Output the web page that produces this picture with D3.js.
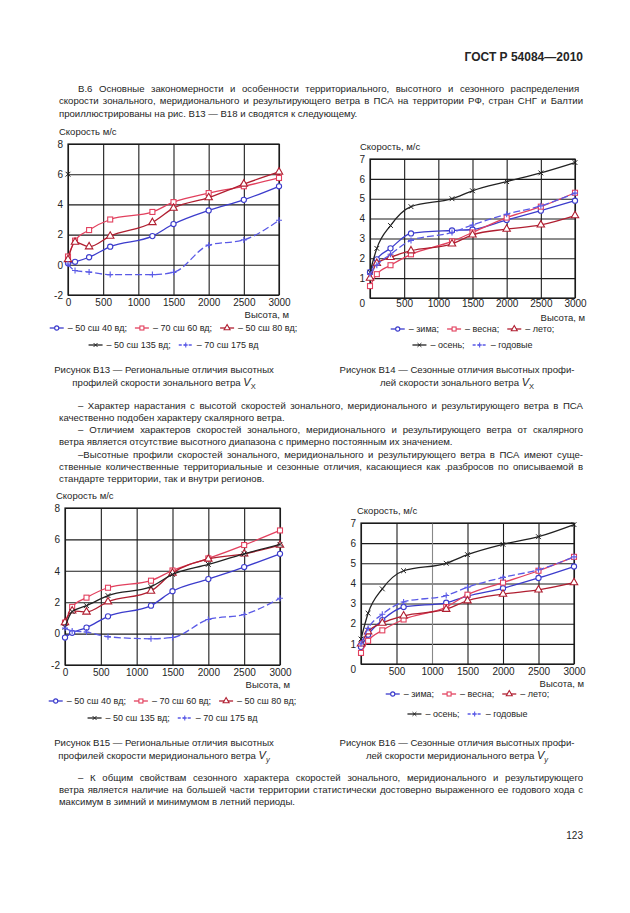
<!DOCTYPE html>
<html>
<head>
<meta charset="utf-8">
<title>ГОСТ Р 54084-2010, с. 123</title>
<script src="https://cdn.jsdelivr.net/npm/d3@7"></script>
<style>
  html, body { margin: 0; padding: 0; background: #fff; }
  svg text { font-family: "Liberation Sans", Arial, sans-serif; fill: #252525; }
</style>
</head>
<body>
<script>
// heights of the profile points, m
var heights = [0, 100, 300, 600, 1200, 1500, 2000, 2500, 3000];
var xTicks = [0, 500, 1000, 1500, 2000, 2500, 3000];

// Fig. B13 - zonal wind Vx, regions
var b13_40 = [0.1, 0.2, 0.5, 1.2, 1.9, 2.7, 3.6, 4.3, 5.2];
var b13_60 = [0.55, 1.6, 2.3, 3.0, 3.5, 4.15, 4.75, 5.2, 5.75];
var b13_80 = [0.35, 1.5, 1.2, 1.9, 2.8, 3.75, 4.45, 5.35, 6.15];
var b13_135 = [6, null, null, null, null, null, null, null, null];
var b13_175 = [0.05, -0.38, -0.48, -0.65, -0.65, -0.5, 1.3, 1.65, 2.95];

// Fig. B14 - zonal wind Vx, seasons
var b14_zima = [1.3, 1.95, 2.5, 3.25, 3.4, 3.45, 3.93, 4.4, 4.9];
var b14_vesna = [0.6, 1.2, 1.65, 2.2, 2.85, 3.3, 4.05, 4.6, 5.3];
var b14_leto = [1.0, 1.75, 2.05, 2.38, 2.73, 3.18, 3.47, 3.68, 4.15];
var b14_osen = [1.3, 2.5, 3.65, 4.6, 5.0, 5.4, 5.86, 6.3, 6.82];
var b14_god = [1.2, 1.65, 2.2, 2.9, 3.3, 3.68, 4.22, 4.64, 5.28];

// Fig. B15 - meridional wind Vy, regions
var b15_40 = [-0.25, 0.05, 0.38, 1.1, 1.78, 2.7, 3.47, 4.24, 5.08];
var b15_60 = [0.7, 1.7, 2.29, 2.92, 3.37, 4.02, 4.79, 5.64, 6.57];
var b15_80 = [0.7, 1.45, 1.38, 2.03, 2.71, 3.86, 4.75, 5.08, 5.64];
var b15_135 = [0.4, 1.4, 1.78, 2.42, 2.99, 3.77, 4.41, 5.08, 5.68];
var b15_175 = [0.35, 0.17, 0.1, -0.2, -0.33, -0.25, 0.9, 1.22, 2.25];

// Fig. B16 - meridional wind Vy, seasons
var b16_zima = [0.85, 1.45, 2.18, 2.83, 3.04, 3.37, 3.76, 4.27, 4.84];
var b16_vesna = [0.55, 1.15, 1.67, 2.21, 2.83, 3.44, 4.04, 4.63, 5.32];
var b16_leto = [1.0, 1.6, 2.03, 2.39, 2.72, 3.14, 3.47, 3.68, 4.04];
var b16_osen = [1.24, 2.52, 3.73, 4.63, 5.0, 5.43, 5.94, 6.32, 6.92];
var b16_god = [1.0, 1.77, 2.47, 3.08, 3.4, 3.81, 4.3, 4.68, 5.32];

var regionNames = ["– 50 сш 40 вд;", "– 70 сш 60 вд;", "– 50 сш 80 вд;", "– 50 сш 135 вд;", "– 70 сш 175 вд"];
var seasonNames = ["– зима;", "– весна;", "– лето;", "– осень;", "– годовые"];

var BLUE = "#3c3ccc", RED = "#e2405e", DARKRED = "#b01e30", BLACK = "#222", LBLUE = "#5a5ae6";
var styles = [
  { color: BLUE, marker: "circle" },
  { color: RED, marker: "square" },
  { color: DARKRED, marker: "triangle" },
  { color: BLACK, marker: "cross" },
  { color: LBLUE, marker: "plus", dash: "7,3" }
];

var svg = d3.select("body").append("svg")
  .attr("width", 630)
  .attr("height", 913);

function marker(g, st, cx, cy, s) {
  var c = st.color;
  if (st.marker == "circle") {
    g.append("circle").attr("cx", cx).attr("cy", cy).attr("r", 2.6 * s)
      .attr("fill", "#fff").attr("stroke", c).attr("stroke-width", 1.1);
  } else if (st.marker == "square") {
    g.append("rect").attr("x", cx - 2.5 * s).attr("y", cy - 2.5 * s)
      .attr("width", 5 * s).attr("height", 5 * s)
      .attr("fill", "#fff").attr("stroke", c).attr("stroke-width", 1.1);
  } else if (st.marker == "triangle") {
    g.append("path").attr("transform", "translate(" + cx + "," + cy + ")")
      .attr("d", d3.symbol().type(d3.symbolTriangle).size(24 * s * s)())
      .attr("fill", "#fff").attr("stroke", c).attr("stroke-width", 1.1);
  } else if (st.marker == "cross") {
    var r = 2.4 * s;
    g.append("path")
      .attr("d", "M" + (cx - r) + "," + (cy - r) + "L" + (cx + r) + "," + (cy + r) +
        "M" + (cx - r) + "," + (cy + r) + "L" + (cx + r) + "," + (cy - r))
      .attr("stroke", c).attr("stroke-width", 1);
  } else {
    var p = 3 * s;
    g.append("path")
      .attr("d", "M" + (cx - p) + "," + cy + "L" + (cx + p) + "," + cy +
        "M" + cx + "," + (cy - p) + "L" + cx + "," + (cy + p))
      .attr("stroke", c).attr("stroke-width", 1.1);
  }
}

function drawChart(c) {
  var x = d3.scaleLinear().domain([0, 3000]).range([c.left, c.right]);
  var y = d3.scaleLinear().domain(c.yDomain).range([c.bottom, c.top]);
  var g = svg.append("g");

  // grid
  g.append("g").attr("transform", "translate(" + c.left + ",0)")
    .call(d3.axisLeft(y).tickValues(c.yTicks).tickSize(-(c.right - c.left)).tickFormat(""))
    .call(function (a) {
      a.select(".domain").remove();
      a.selectAll("line").attr("stroke", "#1c1c1c").attr("stroke-width", 1.1);
    });
  g.append("g").attr("transform", "translate(0," + c.bottom + ")")
    .call(d3.axisBottom(x).tickValues(xTicks).tickSize(-(c.bottom - c.top)).tickFormat(""))
    .call(function (a) {
      a.select(".domain").remove();
      a.selectAll("line")
        .attr("stroke", function (d) { return d == c.greyX ? "#888" : "#1c1c1c"; })
        .attr("stroke-width", 1.1);
    });
  g.append("rect").attr("x", c.left).attr("y", c.top)
    .attr("width", c.right - c.left).attr("height", c.bottom - c.top)
    .attr("fill", "none").attr("stroke", "#1c1c1c").attr("stroke-width", 1.2);

  // tick labels
  g.append("g").attr("transform", "translate(" + c.left + ",0)")
    .call(d3.axisLeft(y).tickValues(c.yLabels).tickSize(0).tickPadding(5).tickFormat(function (d) { return String(d); }))
    .call(function (a) {
      a.select(".domain").remove();
      a.selectAll("text").attr("font-size", 10).attr("font-family", null).attr("fill", null);
    });
  g.append("g").attr("transform", "translate(0," + c.bottom + ")")
    .call(d3.axisBottom(x).tickValues(c.xLabels).tickSize(0).tickPadding(c.xPad).tickFormat(function (d) { return String(d); }))
    .call(function (a) {
      a.select(".domain").remove();
      a.selectAll("text").attr("font-size", 10).attr("font-family", null).attr("fill", null);
    });
  if (c.cornerZero) {
    g.append("text").attr("x", c.left - 5).attr("y", c.bottom + 9)
      .attr("text-anchor", "end").attr("font-size", 10).text("0");
  }

  g.append("text").attr("x", c.titleX).attr("y", c.top - 9)
    .attr("font-size", 9.5).text(c.title);
  g.append("text").attr("x", c.right + 10).attr("y", c.bottom + 23)
    .attr("text-anchor", "end").attr("font-size", 9.5).text("Высота, м");

  // series
  var line = d3.line()
    .defined(function (d) { return d[1] != null; })
    .x(function (d) { return x(d[0]); })
    .y(function (d) { return y(d[1]); })
    .curve(d3.curveMonotoneX);

  c.series.forEach(function (vals, i) {
    var st = styles[i];
    var pts = heights.map(function (h, k) { return [h, vals[k]]; });
    g.append("path").attr("d", line(pts))
      .attr("fill", "none").attr("stroke", st.color).attr("stroke-width", 1.3)
      .attr("stroke-dasharray", st.dash || null);
    pts.forEach(function (p) {
      if (p[1] != null) marker(g, st, x(p[0]), y(p[1]), 1);
    });
  });

  // legend
  var cx = (c.left + c.right) / 2;
  legendRow(cx, c.leg1, [0, 1, 2], c.names);
  legendRow(cx, c.leg2, [3, 4], c.names);

  // caption
  var cap = svg.append("g");
  cap.append("text").attr("x", c.capX).attr("y", c.cap + 3.5)
    .attr("text-anchor", "middle").attr("font-size", 9.6).text(c.cap1);
  var t2 = cap.append("text").attr("x", c.capX).attr("y", c.cap + 16.5)
    .attr("text-anchor", "middle").attr("font-size", 9.6);
  t2.append("tspan").text(c.cap2 + "  ");
  t2.append("tspan").attr("font-style", "italic").attr("font-size", 11).text("V");
  t2.append("tspan").attr("dy", 3).attr("font-size", 7.5)
    .attr("font-style", c.subItalic ? "italic" : null).text(c.sub);
}

function legendRow(cx, cy, idx, names) {
  var g = svg.append("g");
  var xpos = 0;
  idx.forEach(function (i) {
    var st = styles[i];
    var ig = g.append("g").attr("transform", "translate(" + xpos + ",0)");
    ig.append("line").attr("x1", 0).attr("x2", 14).attr("y1", 0).attr("y2", 0)
      .attr("stroke", st.color).attr("stroke-width", 1.3)
      .attr("stroke-dasharray", st.dash ? "3,2" : null);
    marker(ig, st, 7, 0, 0.8);
    var t = ig.append("text").attr("x", 18).attr("y", 3.4)
      .attr("font-size", 9).text(names[i]);
    xpos += 18 + t.node().getComputedTextLength() + 8;
  });
  xpos -= 8;
  g.attr("transform", "translate(" + (cx - xpos / 2) + "," + cy + ")");
}

// body text with justified lines
var L = 59, R = 583, IND = 19;
function para(lines, y0, lh) {
  lines.forEach(function (ln, i) {
    var x0 = L + (ln[1] ? IND : 0);
    var t = svg.append("text").attr("x", x0).attr("y", y0 + i * lh + 3.5)
      .attr("font-size", 9.6).text(ln[0]);
    if (ln[2]) {
      var w = t.node().getComputedTextLength();
      var n = ln[0].split(" ").length - 1;
      if (n > 0) t.style("word-spacing", ((R - x0 - w) / n) + "px");
    }
  });
}

svg.append("text").attr("x", R).attr("y", 61).attr("text-anchor", "end")
  .attr("font-size", 12).attr("font-weight", "bold").text("ГОСТ Р 54084—2010");

para([
  ["В.6  Основные закономерности и особенности территориального, высотного и сезонного распределения", true, true],
  ["скорости зонального, меридионального и результирующего ветра в ПСА на территории РФ, стран СНГ и Балтии", false, true],
  ["проиллюстрированы на рис. В13 — В18 и сводятся к следующему.", false, false]
], 88, 12.5);

drawChart({
  left: 68, right: 279, top: 144, bottom: 295, yDomain: [-2, 8],
  yTicks: [-2, 0, 2, 4, 6, 8], yLabels: [-2, 0, 2, 4, 6, 8], xLabels: xTicks, xPad: 4,
  title: "Скорость м/с", titleX: 59, series: [b13_40, b13_60, b13_80, b13_135, b13_175],
  names: regionNames, leg1: 328, leg2: 345,
  cap: 369, capX: 164, cap1: "Рисунок В13 — Региональные отличия высотных",
  cap2: "профилей скорости зонального ветра", sub: "X", subItalic: false
});

drawChart({
  left: 370, right: 575, top: 159, bottom: 298, yDomain: [0, 7],
  yTicks: [0, 1, 2, 3, 4, 5, 6, 7], yLabels: [1, 2, 3, 4, 5, 6, 7], xLabels: xTicks.slice(1), xPad: 2,
  cornerZero: true,
  title: "Скорость, м/с", titleX: 360, series: [b14_zima, b14_vesna, b14_leto, b14_osen, b14_god],
  names: seasonNames, leg1: 329, leg2: 345,
  cap: 369, capX: 457, cap1: "Рисунок В14 — Сезонные отличия высотных профи-",
  cap2: "лей скорости зонального ветра", sub: "X", subItalic: false
});

para([
  ["– Характер нарастания с высотой скоростей зонального, меридионального и результирующего ветра в ПСА", true, true],
  ["качественно подобен характеру скалярного ветра.", false, false],
  ["– Отличием характеров скоростей зонального, меридионального и результирующего ветра от скалярного", true, true],
  ["ветра является отсутствие высотного диапазона с примерно постоянным их значением.", false, false],
  ["–Высотные профили скоростей зонального, меридионального и результирующего ветра в ПСА имеют суще-", true, true],
  ["ственные количественные территориальные и сезонные отличия, касающиеся как .разбросов по описываемой в", false, true],
  ["стандарте территории, так и внутри регионов.", false, false]
], 405, 12.3);

drawChart({
  left: 65, right: 280, top: 508, bottom: 665, yDomain: [-2, 8],
  yTicks: [-2, 0, 2, 4, 6, 8], yLabels: [-2, 0, 2, 4, 6, 8], xLabels: xTicks, xPad: 4,
  title: "Скорость м/с", titleX: 56, series: [b15_40, b15_60, b15_80, b15_135, b15_175],
  names: regionNames, leg1: 701, leg2: 718,
  cap: 742, capX: 164, cap1: "Рисунок В15 — Региональные отличия высотных",
  cap2: "профилей скорости меридионального ветра", sub: "y", subItalic: true
});

drawChart({
  left: 361, right: 574, top: 523, bottom: 664, yDomain: [0, 7],
  yTicks: [0, 1, 2, 3, 4, 5, 6, 7], yLabels: [1, 2, 3, 4, 5, 6, 7], xLabels: xTicks.slice(1), xPad: 4,
  cornerZero: true, greyX: 1000,
  title: "Скорость, м/с", titleX: 357, series: [b16_zima, b16_vesna, b16_leto, b16_osen, b16_god],
  names: seasonNames, leg1: 694, leg2: 714,
  cap: 742, capX: 457, cap1: "Рисунок В16 — Сезонные отличия высотных профи-",
  cap2: "лей скорости меридионального ветра", sub: "y", subItalic: true
});

para([
  ["– К общим свойствам сезонного характера скоростей зонального, меридионального и результирующего", true, true],
  ["ветра является наличие на большей части территории статистически достоверно выраженного ее годового хода с", false, true],
  ["максимум в зимний и минимумом в летний периоды.", false, false]
], 777, 12.3);

svg.append("text").attr("x", R).attr("y", 839).attr("text-anchor", "end")
  .attr("font-size", 10).text("123");
</script>
</body>
</html>
